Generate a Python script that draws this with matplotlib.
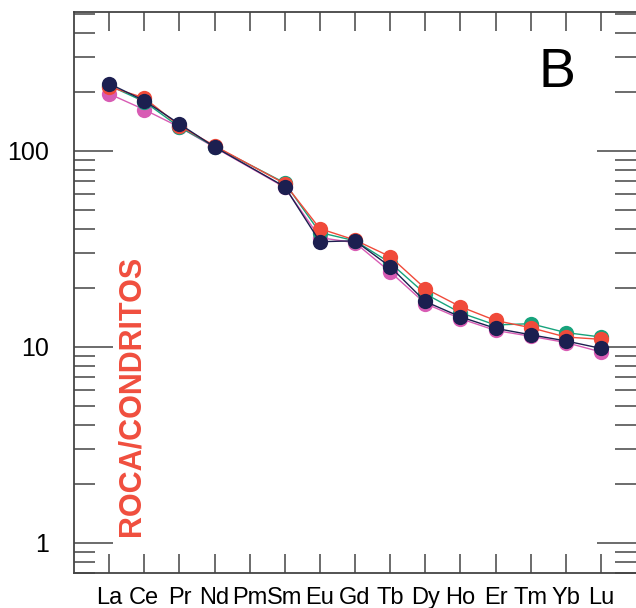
import numpy as np
import matplotlib
matplotlib.use("Agg")
import matplotlib.pyplot as plt
from matplotlib.ticker import LogLocator, FixedLocator, NullFormatter

plt.rcParams['font.family'] = ['Liberation Sans', 'DejaVu Sans']

# Elemente (Pm ohne Messwert)
elemente = ["La", "Ce", "Pr", "Nd", "Pm", "Sm", "Eu", "Gd", "Tb", "Dy", "Ho", "Er", "Tm", "Yb", "Lu"]
gemessen = ["La", "Ce", "Pr", "Nd", "Sm", "Eu", "Gd", "Tb", "Dy", "Ho", "Er", "Tm", "Yb", "Lu"]

# Proben / Chondrit
probe_rosa = [195, 162, 132, 104, 65, 36, 33.9, 24.1, 16.6, 13.9, 12.1, 11.3, 10.5, 9.4]
probe_gruen = [215, 178, 132, 105, 68.5, 38.2, 34.7, 26.8, 18.6, 14.9, 12.9, 13.1, 11.8, 11.2]
probe_rot = [212, 186, 134, 106, 67.9, 40.0, 35.0, 28.8, 19.8, 16.0, 13.6, 12.5, 11.2, 10.9]
probe_blau = [220, 180, 137, 104.5, 65.5, 34.3, 34.7, 25.6, 17.0, 14.2, 12.4, 11.5, 10.7, 9.8]

farben = {"rosa": "#d85cb4", "gruen": "#17a37c", "rot": "#f04a3a", "blau": "#1c1f50"}

x = [elemente.index(e) for e in gemessen]

fig = plt.figure(figsize=(6.36, 6.08), dpi=100)
ax = fig.add_axes([74 / 636, 35 / 608, 562 / 636, 561 / 608])

for werte, name in [(probe_rosa, "rosa"), (probe_gruen, "gruen"),
                    (probe_rot, "rot"), (probe_blau, "blau")]:
    ax.plot(x, werte, color=farben[name], lw=1.0, marker="o", markersize=11,
            markeredgewidth=0)

ax.set_yscale("log")
ax.set_ylim(0.7, 510)
ax.set_xlim(-1, 15)

ax.xaxis.set_major_locator(FixedLocator(range(len(elemente))))
ax.set_xticklabels(elemente)
ax.yaxis.set_major_locator(FixedLocator([1, 10, 100]))
ax.set_yticklabels(["1", "10", "100"])
ax.yaxis.set_minor_locator(LogLocator(base=10, subs=np.arange(2, 10)))
ax.yaxis.set_minor_formatter(NullFormatter())

ax.tick_params(axis="x", which="major", direction="in", top=True, bottom=True,
               length=14, width=1.1, color="#444444", labelsize=17, pad=10)
ax.tick_params(axis="y", which="major", direction="in", left=True, right=True,
               length=28, width=1.1, color="#444444", labelsize=18, pad=18)
ax.tick_params(axis="y", which="minor", direction="in", left=True, right=True,
               length=15, width=1.1, color="#444444")

for s in ["left", "top", "bottom"]:
    ax.spines[s].set_linewidth(1.3)
    ax.spines[s].set_color("#444444")
ax.spines["right"].set_visible(False)

fig.text(557 / 636, 1 - 73 / 608, "B", fontsize=40, ha="center", va="center")
fig.text(132 / 636, 1 - 396 / 608, "ROCA/CONDRITOS", rotation=90, color="#f04e3e",
         fontsize=22, fontweight="bold", ha="center", va="center")

fig.savefig("out.png", dpi=100)
